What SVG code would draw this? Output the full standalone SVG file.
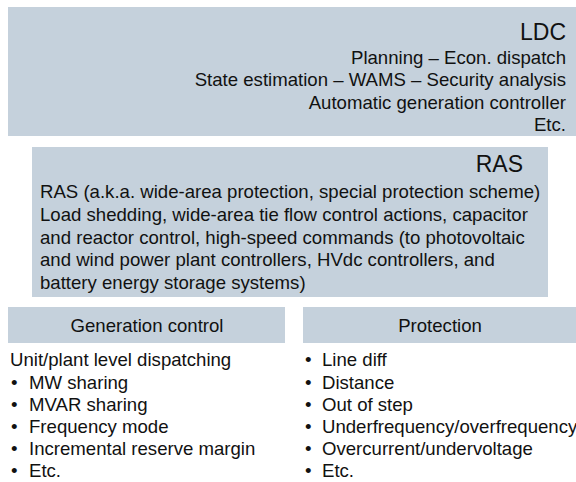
<svg xmlns="http://www.w3.org/2000/svg" width="576" height="482" viewBox="0 0 576 482">
<style>
.box{fill:#c5d1dc}
text{font-family:"Liberation Sans",Arial,sans-serif;fill:#111;font-size:18.6px}
.t{font-size:23px}
.r{text-anchor:end}
.c{text-anchor:middle}
</style>
<rect width="576" height="482" fill="#fff"/>
<g id="ldc">
<rect class="box" x="8" y="7" width="568" height="129"/>
<text class="t r" x="566" y="40">LDC</text>
<text class="r" x="566" y="64">Planning – Econ. dispatch</text>
<text class="r" x="566" y="86">State estimation – WAMS – Security analysis</text>
<text class="r" x="566" y="109">Automatic generation controller</text>
<text class="r" x="566" y="131">Etc.</text>
</g>
<g id="ras">
<rect class="box" x="32" y="147" width="516" height="150"/>
<text class="t r" x="523" y="172">RAS</text>
<text x="40" y="198">RAS (a.k.a. wide-area protection, special protection scheme)</text>
<text x="40" y="221">Load shedding, wide-area tie flow control actions, capacitor</text>
<text x="40" y="244">and reactor control, high-speed commands (to photovoltaic</text>
<text x="40" y="266">and wind power plant controllers, HVdc controllers, and</text>
<text x="40" y="289">battery energy storage systems)</text>
</g>
<g id="gen">
<rect class="box" x="8" y="307" width="277" height="36"/>
<text class="c" x="147" y="332">Generation control</text>
<text x="10" y="366">Unit/plant level dispatching</text>
<text x="11" y="389">•</text><text x="29" y="389">MW sharing</text>
<text x="11" y="411">•</text><text x="29" y="411">MVAR sharing</text>
<text x="11" y="433">•</text><text x="29" y="433">Frequency mode</text>
<text x="11" y="455">•</text><text x="29" y="455">Incremental reserve margin</text>
<text x="11" y="477">•</text><text x="29" y="477">Etc.</text>
</g>
<g id="prot">
<rect class="box" x="303" y="307" width="273" height="36"/>
<text class="c" x="440" y="332">Protection</text>
<text x="305" y="366">•</text><text x="322" y="366">Line diff</text>
<text x="305" y="389">•</text><text x="322" y="389">Distance</text>
<text x="305" y="411">•</text><text x="322" y="411">Out of step</text>
<text x="305" y="433">•</text><text x="322" y="433">Underfrequency/overfrequency</text>
<text x="305" y="455">•</text><text x="322" y="455">Overcurrent/undervoltage</text>
<text x="305" y="477">•</text><text x="322" y="477">Etc.</text>
</g>
<g id="connectors"/>
</svg>
